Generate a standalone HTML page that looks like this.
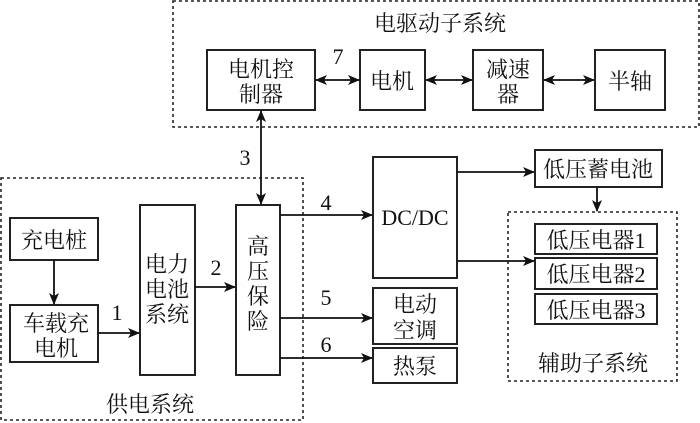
<!DOCTYPE html>
<html><head><meta charset="utf-8"><style>
html,body{margin:0;padding:0;background:#fff;}
svg{display:block;}
text{font-family:"Liberation Serif","Noto Serif CJK SC","Noto Sans CJK SC",serif;font-size:22px;fill:#111;text-anchor:middle;}
.b{fill:#fff;stroke:#222;stroke-width:2;}
.d{fill:none;stroke:#222;stroke-width:1.6;stroke-dasharray:3,3;}
.l{stroke:#111;stroke-width:1.8;fill:none;}
</style></head><body>
<svg width="700" height="423" viewBox="0 0 700 423" xmlns="http://www.w3.org/2000/svg">
<defs>
<marker id="a" markerWidth="12" markerHeight="10" refX="11" refY="5" orient="auto-start-reverse" markerUnits="userSpaceOnUse">
<path d="M0,0 L12,5 L0,10 L3,5 Z" fill="#111"/></marker>
</defs>
<rect class="d" x="173" y="1" width="526" height="126"/>
<rect class="d" x="1" y="178" width="302" height="242"/>
<rect class="d" x="508" y="212" width="169" height="169"/>
<text x="440" y="31">电驱动子系统</text>
<text x="150" y="412">供电系统</text>
<text x="593" y="371">辅助子系统</text>
<rect class="b" x="207" y="50" width="108" height="60"/>
<text x="261" y="77">电机控</text><text x="261" y="102">制器</text>
<rect class="b" x="360" y="50" width="65" height="60"/>
<text x="392" y="89">电机</text>
<rect class="b" x="473" y="50" width="70" height="60"/>
<text x="508" y="77">减速</text><text x="508" y="102">器</text>
<rect class="b" x="595" y="50" width="70" height="60"/>
<text x="630" y="89">半轴</text>
<line class="l" x1="316" y1="80" x2="359" y2="80" marker-start="url(#a)" marker-end="url(#a)"/>
<line class="l" x1="426" y1="80" x2="472" y2="80" marker-start="url(#a)" marker-end="url(#a)"/>
<line class="l" x1="544" y1="80" x2="594" y2="80" marker-start="url(#a)" marker-end="url(#a)"/>
<text x="338" y="64">7</text>
<line class="l" x1="261" y1="111" x2="261" y2="204" marker-start="url(#a)" marker-end="url(#a)"/>
<text x="245" y="165">3</text>
<rect class="b" x="10" y="218" width="88" height="42"/>
<text x="54" y="248">充电桩</text>
<rect class="b" x="10" y="305" width="88" height="57"/>
<text x="56" y="331">车载充</text><text x="56" y="356">电机</text>
<line class="l" x1="54" y1="260" x2="54" y2="304" marker-end="url(#a)"/>
<rect class="b" x="140" y="205" width="55" height="170"/>
<text x="167" y="272">电力</text><text x="167" y="297">电池</text><text x="167" y="322">系统</text>
<line class="l" x1="98" y1="333" x2="139" y2="333" marker-end="url(#a)"/>
<text x="117" y="320">1</text>
<rect class="b" x="236" y="205" width="44" height="170"/>
<text x="258" y="254">高</text><text x="258" y="279">压</text><text x="258" y="304">保</text><text x="258" y="329">险</text>
<line class="l" x1="195" y1="287" x2="235" y2="287" marker-end="url(#a)"/>
<text x="216" y="275">2</text>
<rect class="b" x="373" y="157" width="84" height="121"/>
<text x="415" y="225">DC/DC</text>
<rect class="b" x="373" y="288" width="84" height="56"/>
<text x="415" y="312">电动</text><text x="415" y="338">空调</text>
<rect class="b" x="373" y="348" width="84" height="35"/>
<text x="415" y="374">热泵</text>
<line class="l" x1="280" y1="215" x2="372" y2="215" marker-end="url(#a)"/>
<text x="326" y="210">4</text>
<line class="l" x1="280" y1="318" x2="372" y2="318" marker-end="url(#a)"/>
<text x="326" y="305">5</text>
<line class="l" x1="280" y1="358" x2="372" y2="358" marker-end="url(#a)"/>
<text x="326" y="352">6</text>
<rect class="b" x="535" y="150" width="127" height="37"/>
<text x="598" y="177">低压蓄电池</text>
<line class="l" x1="457" y1="172" x2="534" y2="172" marker-end="url(#a)"/>
<line class="l" x1="597" y1="187" x2="597" y2="211" marker-end="url(#a)"/>
<rect class="b" x="535" y="224" width="122" height="30"/>
<text x="596" y="248">低压电器1</text>
<rect class="b" x="535" y="258" width="122" height="31"/>
<text x="596" y="282">低压电器2</text>
<rect class="b" x="535" y="294" width="122" height="30"/>
<text x="596" y="318">低压电器3</text>
<line class="l" x1="457" y1="261" x2="534" y2="261" marker-end="url(#a)"/>
</svg>
</body></html>
